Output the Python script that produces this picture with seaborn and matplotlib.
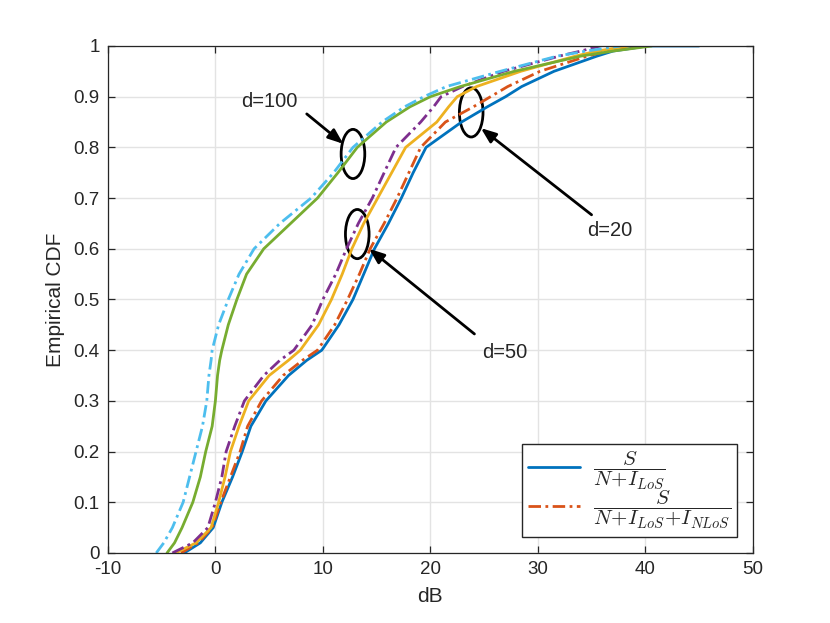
import numpy as np
import pandas as pd
import seaborn as sns
import matplotlib
matplotlib.use('Agg')
import matplotlib.pyplot as plt
from matplotlib.patches import Ellipse

cdf_levels = [0, 0.02, 0.05, 0.1, 0.15, 0.2, 0.25, 0.3, 0.35, 0.38, 0.4, 0.45, 0.5,
              0.55, 0.6, 0.65, 0.7, 0.75, 0.8, 0.85, 0.88, 0.9, 0.92, 0.95, 0.98, 0.99, 1.0]

# d=20
d20_los = [-2.9, -1.4, -0.2, 0.6, 1.6, 2.5, 3.3, 4.7, 6.8, 8.5, 9.9, 11.5, 12.8,
           13.8, 14.8, 16.1, 17.3, 18.4, 19.6, 22.9, 25.3, 27.0, 28.5, 31.5, 35.5, 37.0, 40.2]
d20_all = [-3.2, -1.6, -0.3, 0.5, 1.4, 2.3, 3.0, 4.3, 6.3, 8.1, 9.5, 11.1, 12.3,
           13.4, 14.4, 15.7, 16.9, 18.0, 19.1, 21.4, 24.0, 25.6, 27.2, 30.2, 34.6, 36.5, 39.0]
# d=50
d50_los = [-3.7, -1.8, -0.4, 0.3, 0.9, 1.4, 2.2, 3.1, 5.0, 6.8, 7.9, 9.6, 10.8,
           11.8, 12.7, 13.8, 15.1, 16.4, 17.7, 20.6, 21.7, 22.5, 24.3, 28.4, 33.5, 35.5, 38.5]
d50_all = [-4.0, -2.1, -0.7, 0.0, 0.6, 1.0, 1.8, 2.7, 4.5, 6.0, 7.3, 9.0, 10.0,
           11.2, 12.2, 13.3, 14.6, 15.7, 16.8, 19.1, 20.3, 21.0, 23.0, 26.8, 32.0, 34.0, 35.8]
# d=100
d100_los = [-4.5, -3.8, -3.1, -2.1, -1.4, -0.9, -0.3, 0.0, 0.2, 0.4, 0.6, 1.2, 2.0,
            2.9, 4.5, 7.0, 9.5, 11.4, 13.2, 15.9, 18.1, 20.0, 22.8, 27.8, 34.0, 37.0, 40.6]
d100_all = [-5.5, -4.8, -4.0, -3.0, -2.4, -1.8, -1.2, -0.8, -0.6, -0.4, -0.3, 0.3, 1.2,
            2.2, 3.6, 6.0, 8.9, 11.0, 12.8, 15.5, 17.6, 19.4, 21.5, 26.5, 31.8, 34.5, 37.7]
d20_los_max = 45.0

sns.set_style('ticks')
plt.rcParams['font.family'] = ['Liberation Sans', 'DejaVu Sans']
plt.rcParams['mathtext.fontset'] = 'cm'
plt.rcParams['axes.unicode_minus'] = False

fig = plt.figure(figsize=(8.3, 6.23), dpi=100)
ax = fig.add_axes([0.130, 0.1124, 0.777, 0.8138])

dashdot = (0, (4.5, 1.6, 1, 1.6))
curves = [
    ('d20_los', d20_los + [d20_los_max], cdf_levels + [1.0], '#0072BD', '-'),
    ('d20_all', d20_all, cdf_levels, '#D95319', dashdot),
    ('d50_los', d50_los, cdf_levels, '#EDB120', '-'),
    ('d50_all', d50_all, cdf_levels, '#7E2F8E', dashdot),
    ('d100_los', d100_los, cdf_levels, '#77AC30', '-'),
    ('d100_all', d100_all, cdf_levels, '#4DBEEE', dashdot),
]
for name, xs, ys, col, ls in curves:
    df = pd.DataFrame({'dB': xs, 'cdf': ys})
    sns.lineplot(data=df, x='dB', y='cdf', ax=ax, color=col, linestyle=ls,
                 lw=2.0, estimator=None, sort=False, legend=False)

ax.set_xlim(-10, 50)
ax.set_ylim(0, 1)
ax.set_xticks(np.arange(-10, 51, 10))
ax.set_yticks(np.arange(0, 1.01, 0.1))
ax.set_yticklabels(['0', '0.1', '0.2', '0.3', '0.4', '0.5', '0.6', '0.7', '0.8', '0.9', '1'])
ax.grid(True, color='#e3e3e3', lw=1.0)
ax.set_axisbelow(True)
ax.tick_params(direction='in', top=True, right=True, length=5, width=0.9,
               colors='#262626', labelsize=13.5, pad=6)
for sp in ax.spines.values():
    sp.set_color('#262626')
    sp.set_linewidth(0.9)
ax.set_xlabel('dB', fontsize=15, color='#262626', labelpad=6)
ax.set_ylabel('Empirical CDF', fontsize=15, color='#262626', labelpad=6)

# ellipses and arrows marking the three distances
for cx, cy in [(12.8, 0.787), (13.2, 0.629), (23.8, 0.869)]:
    ax.add_patch(Ellipse((cx, cy), 2.2, 0.097, fill=False, ec='k', lw=2.0))

arrow = dict(arrowstyle='-|>,head_length=0.9,head_width=0.35', lw=2.0, color='k',
             shrinkA=0, shrinkB=0)
ax.annotate('', xy=(11.9, 0.807), xytext=(8.5, 0.866), arrowprops=arrow)
ax.annotate('', xy=(14.3, 0.600), xytext=(24.1, 0.432), arrowprops=arrow)
ax.annotate('', xy=(24.7, 0.838), xytext=(35.0, 0.667), arrowprops=arrow)
ax.text(5.0, 0.89, 'd=100', fontsize=14.5, ha='center', va='center')
ax.text(26.9, 0.396, 'd=50', fontsize=14.5, ha='center', va='center')
ax.text(36.7, 0.637, 'd=20', fontsize=14.5, ha='center', va='center')

ax.legend(ax.lines[:2],
          [r'$\dfrac{S}{N\!+\!I_{LoS}}$', r'$\dfrac{S}{N\!+\!I_{LoS}\!+\!I_{NLoS}}$'],
          loc='lower right', fontsize=15, fancybox=False, framealpha=1,
          edgecolor='#262626', handlelength=2.5, labelspacing=-0.15,
          borderaxespad=0.75, borderpad=0.3, handletextpad=0.6)

fig.savefig('out.png', dpi=100)
